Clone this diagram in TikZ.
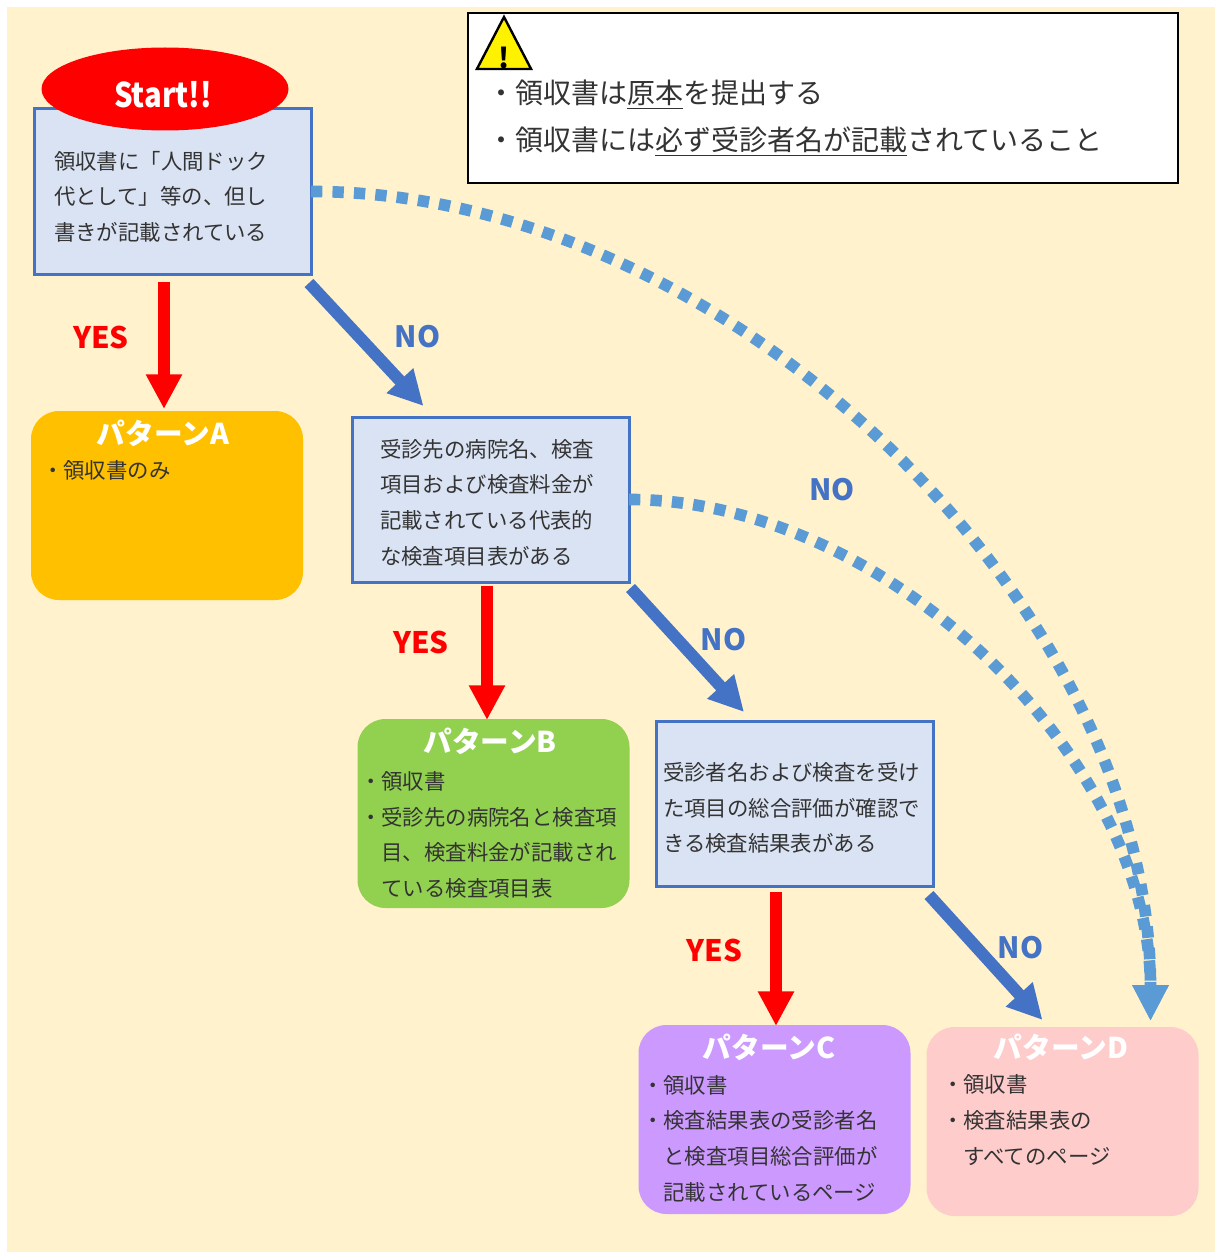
\documentclass[tikz,border=0pt]{standalone}
\usepackage{fontspec}
\setmainfont{Noto Sans CJK JP}
\usetikzlibrary{arrows.meta,shapes.geometric}
\definecolor{bgc}{HTML}{FFF2CC}
\definecolor{boxf}{HTML}{DAE3F3}
\definecolor{boxd}{HTML}{4472C4}
\definecolor{dotc}{HTML}{5B9BD5}
\definecolor{pa}{HTML}{FFC000}
\definecolor{pb}{HTML}{92D050}
\definecolor{pc}{HTML}{CC99FF}
\definecolor{pd}{HTML}{FFCCCC}
\definecolor{ink}{HTML}{333333}
\tikzset{
 every node/.style={inner sep=0pt,outer sep=0pt},
 qbox/.style={draw=boxd,fill=boxf,line width=2.25pt,minimum width=277*0.75pt,minimum height=165*0.75pt},
 pbox/.style={rounded corners=21pt,minimum width=272*0.75pt,minimum height=189*0.75pt},
 body/.style={anchor=west,align=left,text=ink,font=\fontsize{16.05}{26.7}\selectfont},
 warn/.style={anchor=west,align=left,text=ink,font=\fontsize{21}{35.2}\selectfont},
 head/.style={text=white,font=\fontsize{21.5}{25}\selectfont\bfseries},
 yeslab/.style={text=red,font=\fontsize{22.2}{25}\selectfont\bfseries},
 nolab/.style={text=boxd,font=\fontsize{22}{25}\selectfont\bfseries},
 yesarrow/.style={draw=red,line width=9pt,-{Triangle[length=26pt,width=25.5pt]}},
 noarrow/.style={draw=boxd,line width=9pt,-{Triangle[length=26pt,width=25.5pt]}},
 dotarrow/.style={draw=dotc,line width=8.75pt,dash pattern=on 8.5pt off 7.6pt,-{Triangle[length=27pt,width=25.5pt]}},
}
\begin{document}
\begin{tikzpicture}[x=0.75pt,y=-0.75pt]
\useasboundingbox (0,0) rectangle (1215,1252);
\fill[bgc] (7,7) rectangle (1215,1252);
% warning box
\node[draw=black,fill=white,line width=1.5pt,minimum width=710*0.75pt,minimum height=169*0.75pt] (warnbox) at (822.5,98) {};
\node[warn] (warntext) at (487,118) {・領収書は\underline{原本}を提出する\\・領収書には\underline{必ず受診者名が記載}されていること};
\node[isosceles triangle,isosceles triangle apex angle=55,shape border rotate=90,draw=black,fill=yellow,line width=1.8pt,minimum height=52*0.75pt,anchor=apex] (warntri) at (504,17) {};
\node[font=\fontsize{21}{22}\selectfont\bfseries,text=black] (warnmark) at (504,58) {!};
% question boxes
\node[qbox] (q1) at (172.5,191.5) {};
\node[qbox] (q2) at (490.5,499.5) {};
\node[qbox] (q3) at (794.5,803.5) {};
\node[body] (q1t) at (54,196.5) {領収書に「人間ドック\\代として」等の、但し\\書きが記載されている};
\node[body] (q2t) at (380,502.5) {受診先の病院名、検査\\項目および検査料金が\\記載されている代表的\\な検査項目表がある};
\node[body] (q3t) at (663,808) {受診者名および検査を受け\\た項目の総合評価が確認で\\きる検査結果表がある};
% start
\node[ellipse,fill=red,minimum width=247*0.75pt,minimum height=83*0.75pt] (start) at (165,89) {};
\node[text=white,font=\fontsize{25.5}{28}\selectfont\bfseries,xscale=0.86] (startt) at (163,95) {Start!!};
% pattern boxes
\node[pbox,fill=pa] (pA) at (167,505.5) {};
\node[pbox,fill=pb] (pB) at (493.5,813.5) {};
\node[pbox,fill=pc] (pC) at (774.5,1119.5) {};
\node[pbox,fill=pd] (pD) at (1062.5,1121.5) {};
\node[head] (hA) at (163,433) {パターンA};
\node[head] (hB) at (490,741) {パターンB};
\node[head] (hC) at (769,1047) {パターンC};
\node[head] (hD) at (1061,1047) {パターンD};
\node[body] (tA) at (42,470) {・領収書のみ};
\node[body] (tB) at (360,835) {・領収書\\・受診先の病院名と検査項\\　目、検査料金が記載され\\　ている検査項目表};
\node[body] (tC) at (642,1138.5) {・領収書\\・検査結果表の受診者名\\　と検査項目総合評価が\\　記載されているページ};
\node[body] (tD) at (942,1120) {・領収書\\・検査結果表の\\　すべてのページ};
% connectors
\draw[yesarrow] ([shift={(-8.5,8)}]q1.south) -- ([shift={(-3,-2)}]pA.north);
\draw[noarrow] ([shift={(-2,9)}]q1.south east) -- ([shift={(71.5,-11)}]q2.north west);
\draw[yesarrow] ([shift={(-3.5,4)}]q2.south) -- ([shift={(-6.5,1)}]pB.north);
\draw[noarrow] ([shift={(1.5,6)}]q2.south east) -- ([shift={(88,-9)}]q3.north west);
\draw[yesarrow] ([shift={(-18.5,6)}]q3.south) -- ([shift={(1.5,1)}]pC.north);
\draw[noarrow] ([shift={(-4,9)}]q3.south east) -- ([shift={(116,-7)}]pD.north west);
\draw[dotarrow] (q1.east) .. controls +(419,0) and +(0,-415) .. ([shift={(88,-6)}]pD.north);
\draw[dotarrow] (q2.east) .. controls +(260,0) and +(0,-261) .. ([shift={(88,-6)}]pD.north);
% labels
\node[yeslab] (ly1) at (101,337) {YES};
\node[nolab] (ln1) at (417.5,337) {NO};
\node[yeslab] (ly2) at (421,642) {YES};
\node[nolab] (ln2) at (723.5,640) {NO};
\node[yeslab] (ly3) at (714.5,950) {YES};
\node[nolab] (ln3) at (1020.5,948) {NO};
\node[nolab] (ln4) at (832,490) {NO};
\end{tikzpicture}
\end{document}
